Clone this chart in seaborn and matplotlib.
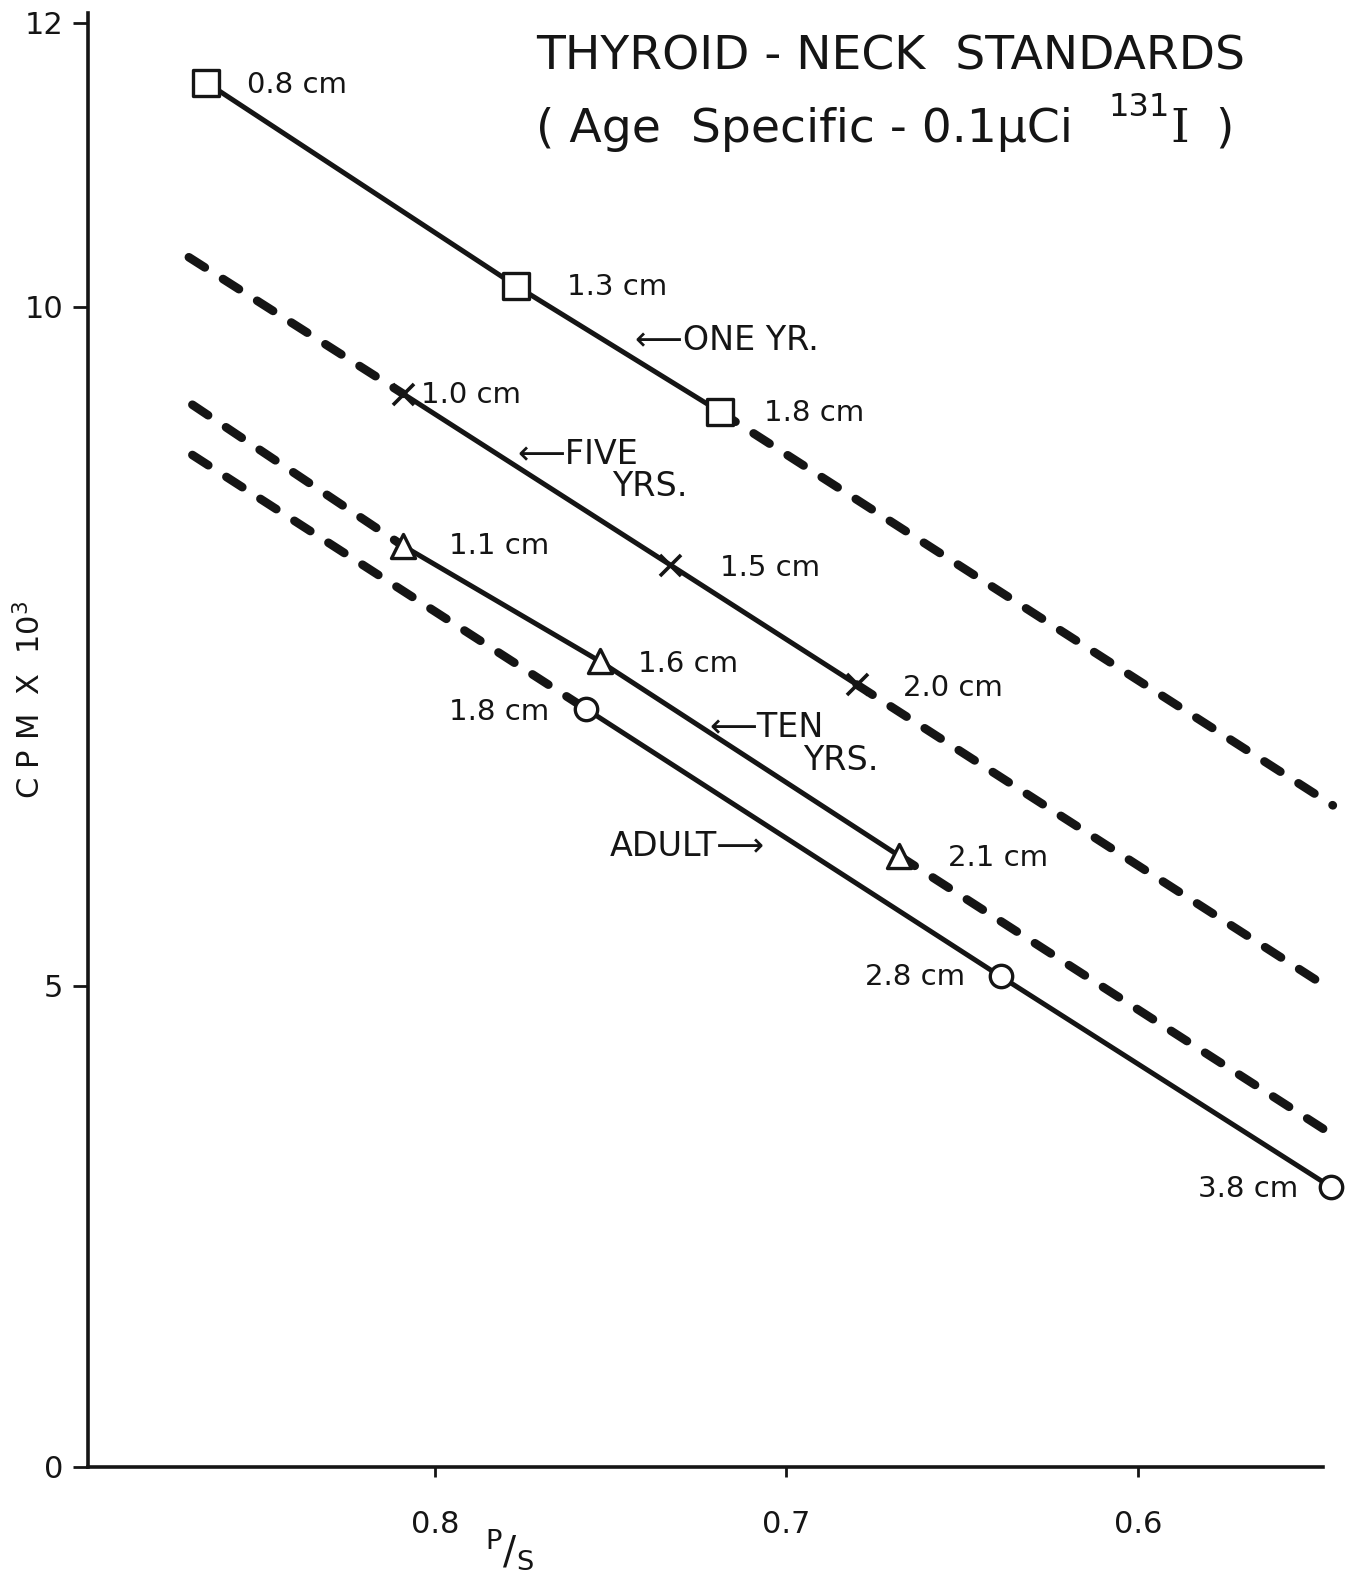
import numpy as np
import matplotlib
matplotlib.use("Agg")
import matplotlib.pyplot as plt
import seaborn as sns

# ---------------- data ----------------
# x = P/S ratio, y = CPM x 10^3, labels = neck/thyroid depth
one_ps = [0.865, 0.777, 0.719]
one_cpm = [11.58, 10.15, 9.23]
one_cm = ["0.8 cm", "1.3 cm", "1.8 cm"]
one_left = None
one_right = (0.5445, 6.33)

five_ps = [0.809, 0.733, 0.680]
five_cpm = [9.36, 8.10, 7.22]
five_cm = ["1.0 cm", "1.5 cm", "2.0 cm"]
five_left = (0.870, 10.35)
five_right = (0.5445, 4.95)

ten_ps = [0.809, 0.753, 0.668]
ten_cpm = [8.24, 7.39, 5.96]
ten_cm = ["1.1 cm", "1.6 cm", "2.1 cm"]
ten_left = (0.869, 9.28)
ten_right = (0.547, 3.51)

adult_ps = [0.757, 0.639, 0.545]
adult_cpm = [7.04, 5.07, 2.91]
adult_cm = ["1.8 cm", "2.8 cm", "3.8 cm"]
adult_left = (0.869, 8.91)
adult_right = None

y_ticks = [0, 5, 10, 12]
x_ticks = [0.8, 0.7, 0.6]
x_tick_labels = ["0.8", "0.7", "0.6"]

# ---------------- style ----------------
sns.set_theme(style="white")
plt.rcParams["font.family"] = ["DejaVu Sans"]
INK = "#151515"
W, H = 1361, 1577

fig = plt.figure(figsize=(W / 100, H / 100), dpi=100)
ax = fig.add_axes([88 / W, 110 / H, (1323 - 88) / W, (1564 - 110) / H])

# hand-ruled ordinate: the original spacing of the y grid is not uniform
_kv = np.array([-1.0, 0.0, 5.0, 10.0, 12.0, 14.0])
_kp = np.array([-96.2, 0.0, 481.0, 1160.0, 1444.0, 1728.0])


def _fwd(v):
    return np.interp(np.asarray(v, dtype=float), _kv, _kp)


def _inv(p):
    return np.interp(np.asarray(p, dtype=float), _kp, _kv)


ax.set_yscale("function", functions=(_fwd, _inv))
ax.set_ylim(0, 12.07)
ax.set_xlim(0.8987, 0.5473)

SOLID_LW = 3.6
DASH_LW = 6.2


def line(xs, ys, dashed):
    kws = dict(color=INK, sort=False, estimator=None, legend=False, ax=ax,
               clip_on=False)
    if dashed:
        sns.lineplot(x=xs, y=ys, lw=DASH_LW, linestyle=(0, (2.2, 2.5)),
                     dash_capstyle="round", zorder=2, **kws)
    else:
        sns.lineplot(x=xs, y=ys, lw=SOLID_LW, solid_capstyle="round",
                     zorder=3, **kws)


series = [
    (one_ps, one_cpm, one_left, one_right, "s", 330),
    (five_ps, five_cpm, five_left, five_right, "x", 230),
    (ten_ps, ten_cpm, ten_left, ten_right, "^", 300),
    (adult_ps, adult_cpm, adult_left, adult_right, "o", 260),
]

for ps, cpm, left, right, mk, size in series:
    line(ps, cpm, dashed=False)
    if left is not None:
        line([left[0], ps[0]], [left[1], cpm[0]], dashed=True)
    if right is not None:
        line([ps[-1], right[0]], [cpm[-1], right[1]], dashed=True)
    if mk == "x":
        sns.scatterplot(x=ps, y=cpm, marker="x", s=size, color=INK,
                        linewidth=2.6, zorder=6, ax=ax, legend=False,
                        clip_on=False)
    else:
        sns.scatterplot(x=ps, y=cpm, marker=mk, s=size, facecolor="white",
                        edgecolor=INK, linewidth=2.4, zorder=6, ax=ax,
                        legend=False, clip_on=False)

# depth labels next to each standard
LBL = 21
offsets = {
    "one": [(41, 2, "left"), (51, 1, "left"), (44, 1, "left")],
    "five": [(18, 1, "left"), (50, 3, "left"), (46, 4, "left")],
    "ten": [(46, 0, "left"), (38, 3, "left"), (49, 2, "left")],
    "adult": [(-37, 3, "right"), (-36, 1, "right"), (-33, 2, "right")],
}
for key, ps, cpm, labs in [("one", one_ps, one_cpm, one_cm),
                           ("five", five_ps, five_cpm, five_cm),
                           ("ten", ten_ps, ten_cpm, ten_cm),
                           ("adult", adult_ps, adult_cpm, adult_cm)]:
    for (dx, dy, ha), x, y, t in zip(offsets[key], ps, cpm, labs):
        ax.annotate(t, xy=(x, y), xytext=(dx, -dy), textcoords="offset pixels",
                    ha=ha, va="center", fontsize=LBL, color=INK,
                    annotation_clip=False)


def ftxt(x, y, s, **kw):
    kw.setdefault("color", INK)
    fig.text(x / W, 1 - y / H, s, **kw)


# series names with arrows
CAP = 24
ftxt(635, 340, "\u27f5ONE YR.", fontsize=CAP, va="center", ha="left")
ftxt(517, 454, "\u27f5FIVE", fontsize=CAP, va="center", ha="left")
ftxt(612, 487, "YRS.", fontsize=CAP, va="center", ha="left")
ftxt(709, 727, "\u27f5TEN", fontsize=CAP, va="center", ha="left")
ftxt(803, 760, "YRS.", fontsize=CAP, va="center", ha="left")
ftxt(610, 847, "ADULT\u27f6", fontsize=CAP, va="center", ha="left")

# title
ftxt(536, 57, "THYROID - NECK  STANDARDS", fontsize=34, va="center", ha="left")
ftxt(536, 129, "( Age  Specific - 0.1\u03bcCi", fontsize=34,
     va="center", ha="left")
ftxt(1108, 108, "131", fontsize=23, va="center", ha="left")
ftxt(1170, 129, "I", fontsize=34, va="center", ha="left",
     family="DejaVu Serif")
ftxt(1215, 129, ")", fontsize=34, va="center", ha="left")

# axes styling
sns.despine(ax=ax)
for sp in ("left", "bottom"):
    ax.spines[sp].set_color(INK)
    ax.spines[sp].set_linewidth(2.6)

ax.set_yticks(y_ticks)
ax.set_yticklabels([str(v) for v in y_ticks])
ax.set_xticks(x_ticks)
ax.set_xticklabels(x_tick_labels)
ax.yaxis.set_minor_locator(matplotlib.ticker.NullLocator())
ax.xaxis.set_minor_locator(matplotlib.ticker.NullLocator())
ax.tick_params(axis="y", direction="out", length=11, width=2, pad=7,
               labelsize=22, colors=INK, left=True)
ax.tick_params(axis="x", direction="out", length=7, width=2, pad=24,
               labelsize=22, colors=INK, bottom=True)
ax.grid(False)
ax.set_facecolor("white")

ax.set_ylabel("")
ax.set_xlabel("")
ftxt(30, 700, "C P M  X  10$^{3}$", fontsize=22, rotation=90, va="center",
     ha="center")
ftxt(510, 1550, r"$\mathregular{^{P}/_{S}}$", fontsize=28, va="center",
     ha="center")

fig.savefig("out.png", dpi=100, facecolor="white")
